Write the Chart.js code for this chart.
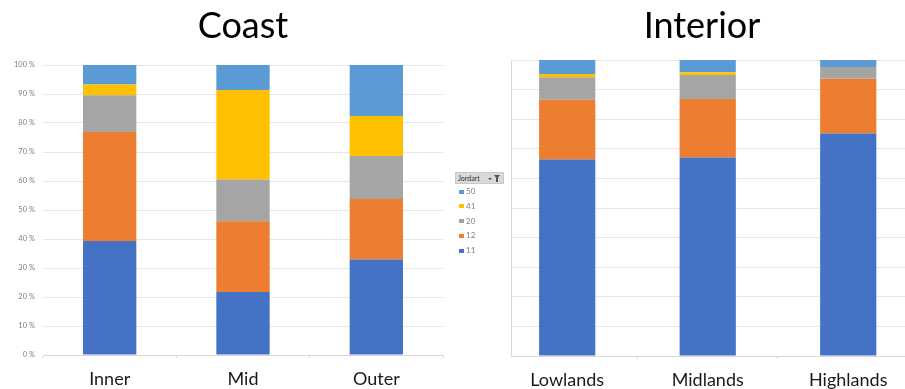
<!DOCTYPE html>
<html>
<head>
<meta charset="utf-8">
<title>Jordart – Coast / Interior</title>
<script src="https://cdn.jsdelivr.net/npm/chart.js@4.4.1/dist/chart.umd.min.js"></script>
<style>
  html, body { margin: 0; padding: 0; background: #fff; }
  body { width: 905px; height: 389px; position: relative; overflow: hidden; font-family: Lato, sans-serif; }
  #coastBox { position: absolute; left: 0; top: 0; width: 483px; height: 389px; }
  #interiorBox { position: absolute; left: 499px; top: 0; width: 406px; height: 389px; }
  #legend { position: absolute; left: 455px; top: 172px; width: 49px; }
  #legend .field {
    height: 12px; box-sizing: border-box; background: #d9d9d9; border: 1px solid #cacaca;
    font-size: 7px; line-height: 10px; color: #333; padding-left: 2px; position: relative;
  }
  #legend .field .arrow {
    position: absolute; right: 11px; top: 5px; width: 0; height: 0;
    border-left: 2px solid transparent; border-right: 2px solid transparent; border-top: 2px solid #555;
  }
  #legend .field .funnel {
    position: absolute; right: 3px; top: 2px; width: 0; height: 0;
    border-left: 3.5px solid transparent; border-right: 3.5px solid transparent; border-top: 4px solid #555;
  }
  #legend .field .funnel::after {
    content: ''; position: absolute; left: -1px; top: -1px; width: 2px; height: 4px; background: #555;
  }
  #legend ul { list-style: none; margin: 0; padding: 0; }
  #legend li { position: relative; height: 14.8px; line-height: 14.8px; font-size: 8px; color: #808080; padding-left: 11px; }
  #legend li span { position: absolute; left: 4px; top: 5.5px; width: 5px; height: 4px; }
</style>
</head>
<body>
<div id="coastBox"><canvas id="coastChart"></canvas></div>
<div id="interiorBox"><canvas id="interiorChart"></canvas></div>
<div id="legend">
  <div class="field">Jordart<span class="arrow"></span><span class="funnel"></span></div>
  <ul id="legendItems"></ul>
</div>
<script>
const coastCategories = ['Inner', 'Mid', 'Outer'];
const interiorCategories = ['Lowlands', 'Midlands', 'Highlands'];

const soilTypes = ['11', '12', '20', '41', '50'];
const soilColors = ['#4472C4', '#ED7D31', '#A5A5A5', '#FFC000', '#5B9BD5'];

// share of each soil type (%), per category
const coast11 = [39.3, 21.7, 32.9];
const coast12 = [37.6, 24.4, 20.9];
const coast20 = [12.7, 14.4, 14.8];
const coast41 = [3.7, 30.9, 13.8];
const coast50 = [6.7, 8.6, 17.6];

const interior11 = [66.4, 67.1, 75.2];
const interior12 = [20.2, 19.7, 18.5];
const interior20 = [7.6, 8.1, 3.9];
const interior41 = [1.1, 1.0, 0.0];
const interior50 = [4.7, 4.1, 2.4];

const percentTicks = [0, 10, 20, 30, 40, 50, 60, 70, 80, 90, 100];

const coastSeries = [coast11, coast12, coast20, coast41, coast50];
const interiorSeries = [interior11, interior12, interior20, interior41, interior50];

const gridColor = '#e6e6e6';
const axisColor = '#d9d9d9';

function titleOptions(text, bottom, fullSize) {
    return {
        display: true,
        text: text,
        fullSize: fullSize,
        color: '#000',
        font: { family: 'Lato', size: 36, weight: 'normal', lineHeight: 1.2 },
        padding: { top: 5, bottom: bottom }
    };
}

function initializeCharts() {
    new Chart(document.getElementById('coastChart'), {
        type: 'bar',
        data: {
            labels: coastCategories,
            datasets: coastSeries.map((values, i) => ({
                label: soilTypes[i],
                data: values,
                backgroundColor: soilColors[i],
                categoryPercentage: 0.8,
                barPercentage: 0.5
            }))
        },
        options: {
            responsive: true,
            maintainAspectRatio: false,
            animation: false,
            layout: { padding: { right: 40 } },
            plugins: {
                legend: { display: false },
                tooltip: { enabled: false },
                // centred over the plot area, not the whole canvas
                title: titleOptions('Coast', 16.8, false)
            },
            scales: {
                x: {
                    stacked: true,
                    border: { color: axisColor },
                    grid: { offset: true, drawOnChartArea: false, tickLength: 3, color: axisColor },
                    ticks: { color: '#1a1a1a', padding: 10, font: { family: 'Lato', size: 18 } },
                    afterFit: scale => { scale.height = 34; }
                },
                y: {
                    stacked: true,
                    min: 0,
                    max: 100,
                    afterBuildTicks: scale => { scale.ticks = percentTicks.map(v => ({ value: v })); },
                    border: { display: false },
                    grid: { color: gridColor, drawTicks: false },
                    ticks: {
                        color: '#7f7f7f',
                        padding: 8,
                        font: { family: 'Lato', size: 7.5 },
                        callback: v => v + ' %'
                    },
                    afterFit: scale => { scale.width = 43; }
                }
            }
        }
    });

    new Chart(document.getElementById('interiorChart'), {
        type: 'bar',
        data: {
            datasets: interiorSeries.map((values, i) => ({
                label: soilTypes[i],
                data: values.map((v, j) => ({ x: j + 1, y: v })),
                backgroundColor: soilColors[i],
                categoryPercentage: 0.8,
                barPercentage: 1
            }))
        },
        options: {
            responsive: true,
            maintainAspectRatio: false,
            animation: false,
            plugins: {
                legend: { display: false },
                tooltip: { enabled: false },
                title: titleOptions('Interior', 11.8, true)
            },
            scales: {
                x: {
                    type: 'linear',
                    stacked: true,
                    offset: false,
                    min: 0.6,
                    max: 3.404,
                    border: { color: axisColor },
                    grid: {
                        offset: false,
                        drawOnChartArea: false,
                        tickLength: 3,
                        color: ctx => Number.isInteger(ctx.tick.value) ? 'rgba(0,0,0,0)' : axisColor
                    },
                    ticks: {
                        stepSize: 0.5,
                        includeBounds: false,
                        autoSkip: false,
                        maxRotation: 0,
                        color: '#1a1a1a',
                        padding: 10,
                        font: { family: 'Lato', size: 18 },
                        callback: v => Number.isInteger(v) ? interiorCategories[v - 1] : ''
                    },
                    afterFit: scale => { scale.height = 33; }
                },
                y: {
                    stacked: true,
                    min: 0,
                    max: 100,
                    afterBuildTicks: scale => { scale.ticks = percentTicks.map(v => ({ value: v })); },
                    border: { color: axisColor },
                    grid: { color: gridColor, drawTicks: false },
                    ticks: { display: false },
                    afterFit: scale => { scale.width = 12; }
                }
            }
        }
    });

    // legend list, topmost series first
    const list = document.getElementById('legendItems');
    for (let i = soilTypes.length - 1; i >= 0; i--) {
        const li = document.createElement('li');
        const swatch = document.createElement('span');
        swatch.style.background = soilColors[i];
        li.appendChild(swatch);
        li.appendChild(document.createTextNode(soilTypes[i]));
        list.appendChild(li);
    }
}

document.addEventListener('DOMContentLoaded', initializeCharts);
</script>
</body>
</html>
